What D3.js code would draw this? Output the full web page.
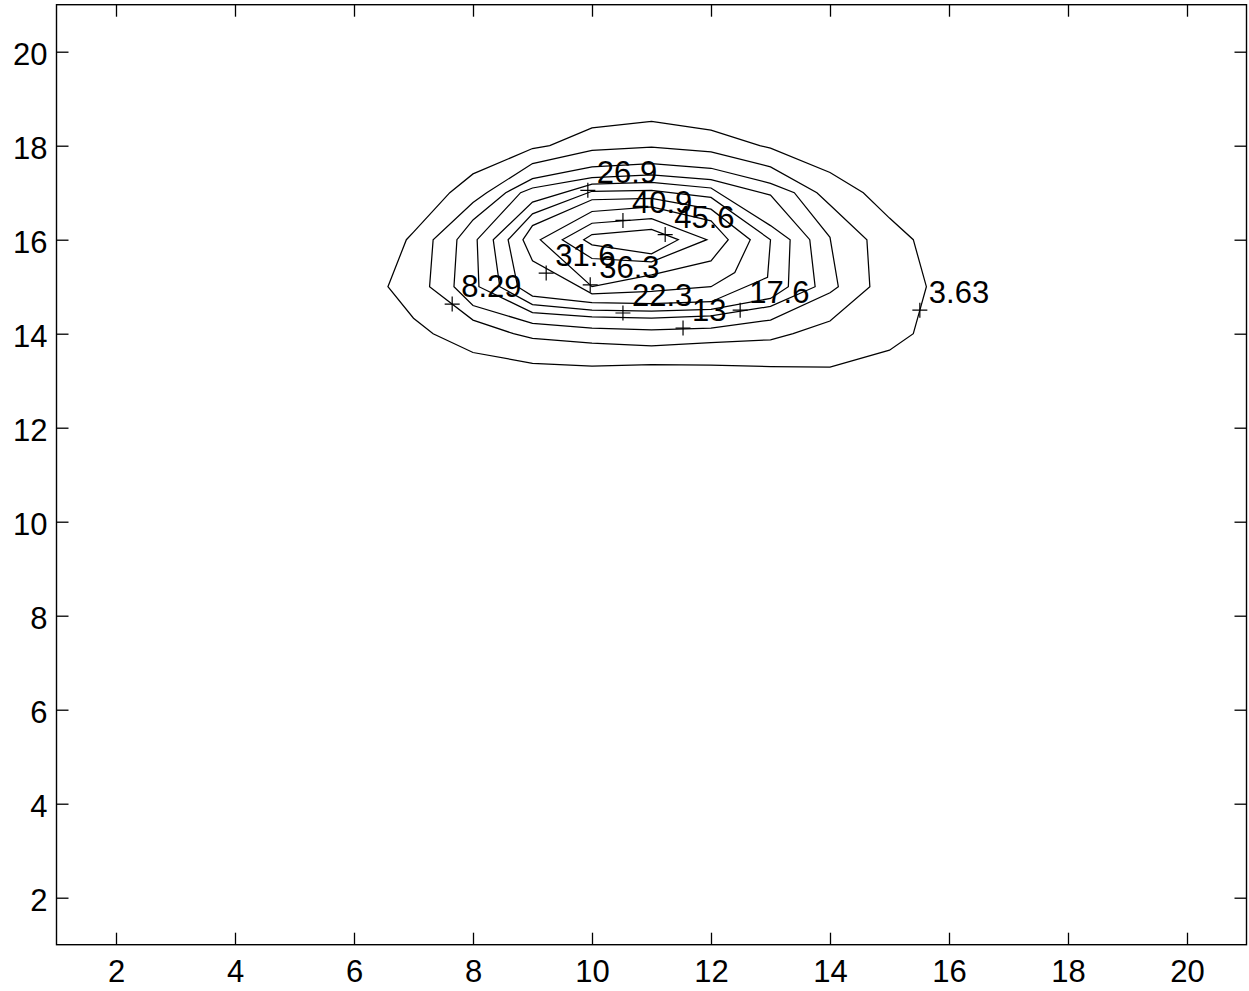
<!DOCTYPE html>
<html><head><meta charset="utf-8">
<script src="https://cdn.jsdelivr.net/npm/d3@7"></script>
<style>body{margin:0;background:#fff}svg text{font-family:Arial,"Liberation Sans",sans-serif;fill:#000}</style>
</head><body><svg id="c" width="1249" height="991"></svg>
<script>
const xTicks = [2,4,6,8,10,12,14,16,18,20];
const yTicks = [2,4,6,8,10,12,14,16,18,20];
const levels = [3.63, 8.29, 13, 17.6, 22.3, 26.9, 31.6, 36.3, 40.9, 45.6];
// contour polylines (closed), [x, y] in data units
const c1 = [[6.57,15],[6.88,16],[7,16.16],[7.61,17],[8,17.40],[9,17.94],[9.29,18],[10,18.38],[11,18.52],[12,18.33],[12.82,18],[13,17.95],[14,17.43],[14.56,17],[15,16.46],[15.40,16],[15.62,15],[15.40,14],[15,13.65],[14,13.29],[13,13.30],[12,13.33],[11,13.34],[10,13.31],[9,13.37],[8,13.60],[7.33,14],[7,14.33]];
const c2 = [[7.27,15],[7.33,16],[8,16.79],[8.23,17],[9,17.62],[10,17.90],[11,17.97],[12,17.87],[13,17.55],[13.78,17],[14,16.74],[14.62,16],[14.67,15],[14,14.27],[13.38,14],[13,13.87],[12,13.81],[11,13.74],[10,13.80],[9,13.90],[8.68,14],[8,14.29]];
const c3 = [[7.68,15],[7.73,16],[8,16.42],[8.55,17],[9,17.3],[10,17.55],[11,17.62],[12,17.52],[13,17.2],[13.4,17],[14,16.05],[14.14,15],[14,14.87],[13,14.29],[12,14.12],[11,14.08],[10,14.12],[9,14.22],[8,14.6]];
const c4 = [[8.1,15],[8.07,16],[8.8,17],[9,17.1],[10,17.32],[11,17.38],[12,17.28],[13,16.95],[13.66,16],[13.75,15],[13,14.58],[12,14.38],[11,14.33],[10,14.36],[9,14.45]];
const c5 = [[8.45,15],[8.34,16],[9,16.8],[10,17.18],[11,17.22],[12,17.1],[13,16.3],[13.33,16],[13.3,15],[13,14.75],[12,14.52],[11,14.48],[10,14.5],[9,14.62]];
const c6 = [[8.75,15],[8.59,16],[9,16.55],[10,17.03],[11,17.05],[12,16.9],[13,16.0],[12.95,15.2],[12,14.68],[11,14.64],[10,14.66],[9,14.8]];
const c7 = [[8.84,16],[9,16.3],[10,16.85],[11,16.88],[12,16.65],[12.66,16],[12.4,15.3],[12,15.0],[11,14.9],[10,14.85],[9,15.55]];
const c8 = [[9.13,16],[10,16.6],[11,16.7],[12,16.4],[12.29,16],[12,15.55],[11,15.25],[10,15.0]];
const c9 = [[9.50,16],[10,16.35],[11,16.45],[11.93,16],[11,15.53],[10,15.60]];
const c10 = [[9.86,16],[10,16.11],[11,16.22],[11.45,16],[11,15.70],[10,15.89]];
const contours = [c1,c2,c3,c4,c5,c6,c7,c8,c9,c10];
// contour labels
const labelText = ["3.63","8.29","13","17.6","22.3","26.9","31.6","36.3","40.9","45.6"];
const labelX = [15.51, 7.65, 11.53, 12.49, 10.52, 9.93, 9.23, 9.97, 10.52, 11.23];
const labelY = [14.50, 14.63, 14.12, 14.50, 14.44, 17.05, 15.29, 15.04, 16.41, 16.11];

const svg = d3.select("#c");
const L = 56.5, R = 1246.5, T = 4.7, B = 944.7;
const x = d3.scaleLinear().domain([1,21]).range([L,R]);
const y = d3.scaleLinear().domain([1,21]).range([B,T]);
const fs = "31px";

// contours
const line = d3.line().x(d => x(d[0])).y(d => y(d[1]));
svg.append("g").selectAll("path").data(contours).join("path")
  .attr("d", d => line(d) + "Z")
  .attr("fill","none").attr("stroke","#000").attr("stroke-width",1.25).attr("stroke-linejoin","miter");

// labels
const lg = svg.append("g");
labelText.forEach((t,i) => {
  const px = x(labelX[i]), py = y(labelY[i]);
  lg.append("path").attr("d", `M${px-7.5},${py}H${px+7.5}M${px},${py-7.5}V${py+7.5}`)
    .attr("stroke","#000").attr("stroke-width",1.2);
  lg.append("text").attr("x", px+9).attr("y", py-7).attr("font-size",fs).text(t);
});

// axes
function style(g){
  g.select(".domain").remove();
  g.selectAll(".tick line").attr("stroke","#000").attr("stroke-width",1.3);
  g.selectAll("text").attr("font-size",fs).attr("fill","#000").attr("font-family",'Arial,"Liberation Sans",sans-serif');
}
svg.append("g").attr("transform",`translate(0,${B})`)
  .call(d3.axisBottom(x).tickValues(xTicks).tickSize(-12).tickPadding(15).tickFormat(d3.format("d"))).call(style);
svg.append("g").attr("transform",`translate(0,${T})`)
  .call(d3.axisTop(x).tickValues(xTicks).tickSize(-12).tickFormat("")).call(style);
svg.append("g").attr("transform",`translate(${L},0)`)
  .call(d3.axisLeft(y).tickValues(yTicks).tickSize(-12).tickPadding(9).tickFormat(d3.format("d"))).call(style)
  .selectAll("text").attr("dy","0.42em");
svg.append("g").attr("transform",`translate(${R},0)`)
  .call(d3.axisRight(y).tickValues(yTicks).tickSize(-12).tickFormat("")).call(style);
svg.append("rect").attr("x",L).attr("y",T).attr("width",R-L).attr("height",B-T)
  .attr("fill","none").attr("stroke","#000").attr("stroke-width",1.4);
</script></body></html>
